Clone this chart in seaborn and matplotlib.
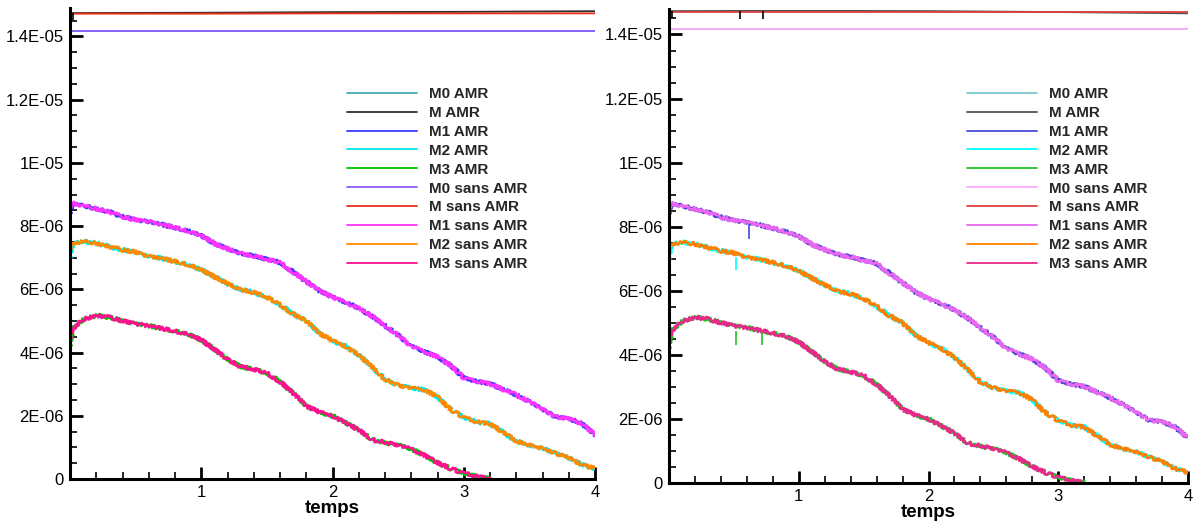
import numpy as np
import matplotlib
matplotlib.use("Agg")
import matplotlib.pyplot as plt
import seaborn as sns
from matplotlib.ticker import MultipleLocator, FixedLocator, FixedFormatter

# ---------------- data (masses in units of 1E-06) ----------------
temps = [0.0, 0.02, 0.1, 0.2, 0.3, 0.4, 0.5, 0.6, 0.7, 0.8, 0.9, 1.0, 1.1, 1.2,
         1.3, 1.4, 1.5, 1.6, 1.7, 1.8, 1.9, 2.0, 2.1, 2.2, 2.3, 2.4, 2.5, 2.6,
         2.7, 2.8, 2.9, 3.0, 3.1, 3.2, 3.3, 3.4, 3.5, 3.6, 3.7, 3.8, 3.9, 4.0]

m1_sans = [8.62, 8.72, 8.65, 8.55, 8.45, 8.30, 8.20, 8.15, 8.05, 7.95, 7.85, 7.70,
           7.45, 7.28, 7.15, 7.05, 6.95, 6.85, 6.55, 6.25, 5.95, 5.75, 5.60, 5.40,
           5.15, 4.85, 4.55, 4.20, 4.03, 3.86, 3.60, 3.20, 3.08, 3.02, 2.83, 2.66,
           2.45, 2.22, 1.97, 1.92, 1.75, 1.40]
m1_amr = [8.40, 8.72, 8.65, 8.55, 8.45, 8.30, 8.20, 8.15, 8.05, 7.95, 7.85, 7.70,
          7.45, 7.28, 7.15, 7.05, 6.95, 6.85, 6.55, 6.25, 5.95, 5.75, 5.60, 5.40,
          5.15, 4.85, 4.55, 4.20, 4.03, 3.86, 3.60, 3.20, 3.08, 3.02, 2.83, 2.66,
          2.45, 2.22, 1.97, 1.92, 1.75, 1.40]

m2_sans = [7.30, 7.45, 7.52, 7.46, 7.35, 7.25, 7.18, 7.05, 6.98, 6.88, 6.78, 6.62,
           6.40, 6.18, 6.00, 5.90, 5.75, 5.52, 5.22, 5.00, 4.60, 4.38, 4.20, 3.92,
           3.55, 3.15, 2.97, 2.88, 2.82, 2.60, 2.20, 1.95, 1.80, 1.75, 1.47, 1.20,
           1.07, 0.98, 0.82, 0.68, 0.45, 0.33]
m2_amr = [7.00, 7.45, 7.52, 7.46, 7.35, 7.25, 7.18, 7.05, 6.98, 6.88, 6.78, 6.62,
          6.40, 6.18, 6.00, 5.90, 5.75, 5.52, 5.22, 5.00, 4.60, 4.38, 4.20, 3.92,
          3.55, 3.15, 2.97, 2.88, 2.82, 2.60, 2.20, 1.95, 1.80, 1.75, 1.47, 1.20,
          1.07, 0.98, 0.82, 0.68, 0.45, 0.33]

m3_sans = [4.45, 4.75, 5.05, 5.17, 5.12, 5.00, 4.92, 4.85, 4.76, 4.68, 4.58, 4.40,
           4.10, 3.80, 3.55, 3.47, 3.35, 3.08, 2.72, 2.30, 2.12, 2.00, 1.78, 1.55,
           1.25, 1.15, 1.08, 0.95, 0.75, 0.52, 0.33, 0.18, 0.08, 0.01,
           None, None, None, None, None, None, None, None]
m3_amr = [4.20, 4.75, 5.05, 5.17, 5.12, 5.00, 4.92, 4.85, 4.76, 4.68, 4.58, 4.40,
          4.10, 3.80, 3.55, 3.47, 3.35, 3.08, 2.72, 2.30, 2.12, 2.00, 1.78, 1.55,
          1.25, 1.15, 1.08, 0.95, 0.75, 0.52, 0.33, 0.18, 0.08, 0.01,
          None, None, None, None, None, None, None, None]

temps_plateau = [0.0, 1.0, 2.0, 3.0, 4.0]
m_amr_left = [14.74, 14.75, 14.77, 14.78, 14.80]
m_sans_left = [14.72, 14.72, 14.73, 14.73, 14.73]
m_amr_right = [14.73, 14.74, 14.73, 14.70, 14.66]
m_sans_right = [14.71, 14.71, 14.71, 14.71, 14.71]
m0_sans = [14.16, 14.16, 14.16, 14.16, 14.16]
m0_amr = [14.16, 14.16, 14.16, 14.16, 14.16]

# short AMR regridding dips (time, top, bottom) per series index
dips_left = {1: ([0.02], [14.74], [14.52])}
dips_right = {
    1: ([0.02, 0.546, 0.723], [14.73, 14.74, 14.74], [14.52, 14.47, 14.47]),
    2: ([0.62], [8.10], [7.62]),
    3: ([0.52], [7.05], [6.65]),
    4: ([0.52, 0.715], [4.75, 4.70], [4.30, 4.32]),
}

labels = ["M0 AMR", "M AMR", "M1 AMR", "M2 AMR", "M3 AMR",
          "M0 sans AMR", "M sans AMR", "M1 sans AMR", "M2 sans AMR", "M3 sans AMR"]

y_ticks = [0, 2, 4, 6, 8, 10, 12, 14]
y_tick_labels = ["0", "2E-06", "4E-06", "6E-06", "8E-06", "1E-05", "1.2E-05", "1.4E-05"]
x_ticks = [1, 2, 3, 4]
x_tick_labels = ["1", "2", "3", "4"]
x_label = "temps"

colors_left = ["#3fb0b4", "#303030", "#3a3aff", "#00e6e6", "#00c000",
               "#8f5cff", "#e8301e", "#ff33ff", "#ff8a00", "#ff1090"]
colors_right = ["#7cc8cc", "#505050", "#4848d8", "#00ffff", "#22c022",
                "#ffaaff", "#e04040", "#e866f0", "#ff8000", "#e8288a"]

SCALE = 1e-6

# ---------------- figure ----------------
sns.set_theme(style="white")
plt.rcParams["font.family"] = ["Liberation Sans", "DejaVu Sans"]

fig = plt.figure(figsize=(11.95, 5.22), dpi=100)
ax_l = fig.add_axes([70 / 1195, 43 / 522, 525 / 1195, 471 / 522])
ax_r = fig.add_axes([669 / 1195, 39 / 522, 519 / 1195, 473.5 / 522])


def draw_panel(ax, cols, m_amr, m_sans, ytop, leg_anchor, dips):
    series = [
        (temps_plateau, m0_amr), (temps_plateau, m_amr), (temps, m1_amr),
        (temps, m2_amr), (temps, m3_amr),
        (temps_plateau, m0_sans), (temps_plateau, m_sans), (temps, m1_sans),
        (temps, m2_sans), (temps, m3_sans),
    ]
    noisy = []
    for i, ((tx, vals), lab, col) in enumerate(zip(series, labels, cols)):
        y = np.array([np.nan if v is None else v for v in vals], dtype=float) * SCALE
        x = np.array(tx, dtype=float)
        ok = ~np.isnan(y)
        lw = 1.8 if tx is temps else 1.3
        n_before = len(ax.lines)
        sns.lineplot(x=x[ok], y=y[ok], ax=ax, color=col, label=lab,
                     linewidth=lw, sort=False, estimator=None)
        if tx is temps:
            noisy.extend(ax.lines[n_before:])
        if i in dips and i < 5:
            dt, dtop, dbot = dips[i]
            ax.vlines(dt, np.array(dbot) * SCALE, np.array(dtop) * SCALE,
                      color=col if i != 1 else "black", linewidth=1.2, zorder=2.5)

    ax.set_xlim(0, 4)
    ax.set_ylim(0, ytop)
    ax.yaxis.set_major_locator(FixedLocator([v * SCALE for v in y_ticks]))
    ax.yaxis.set_major_formatter(FixedFormatter(y_tick_labels))
    ax.yaxis.set_minor_locator(MultipleLocator(0.5 * SCALE))
    ax.xaxis.set_major_locator(FixedLocator(x_ticks))
    ax.xaxis.set_major_formatter(FixedFormatter(x_tick_labels))
    ax.xaxis.set_minor_locator(MultipleLocator(0.2))

    for s in ["top", "right"]:
        ax.spines[s].set_visible(False)
    for s in ["left", "bottom"]:
        ax.spines[s].set_linewidth(2.2)
        ax.spines[s].set_color("black")
        ax.spines[s].set_zorder(5)
    ax.tick_params(which="major", direction="in", length=9, width=2, color="black",
                   labelsize=12, pad=4.5, left=True, bottom=True, labelcolor="black")
    ax.tick_params(which="minor", direction="in", length=5, width=1.2, color="black",
                   left=True, bottom=True)
    ax.set_xlabel(x_label, fontsize=13.5, fontweight="bold", labelpad=0, color="black")
    ax.set_ylabel("")
    ax.grid(False)
    ax.set_facecolor("white")

    leg = ax.legend(loc="upper left", bbox_to_anchor=leg_anchor, frameon=False,
                    prop={"weight": "bold", "size": 11}, handlelength=4.6,
                    handletextpad=0.75, labelspacing=0.32, borderpad=0,
                    borderaxespad=0)
    for h in leg.get_lines():
        h.set_linewidth(1.3)
    # jagged rendering style for the fluctuating signals
    for ln in noisy:
        ln.set_sketch_params(scale=1.8, length=1.6, randomness=2)


draw_panel(ax_l, colors_left, m_amr_left, m_sans_left, 14.9 * SCALE, (0.528, 0.832),
           dips_left)
draw_panel(ax_r, colors_right, m_amr_right, m_sans_right, 14.78 * SCALE, (0.574, 0.836),
           dips_right)

fig.savefig("out.png", dpi=100, facecolor="white")
